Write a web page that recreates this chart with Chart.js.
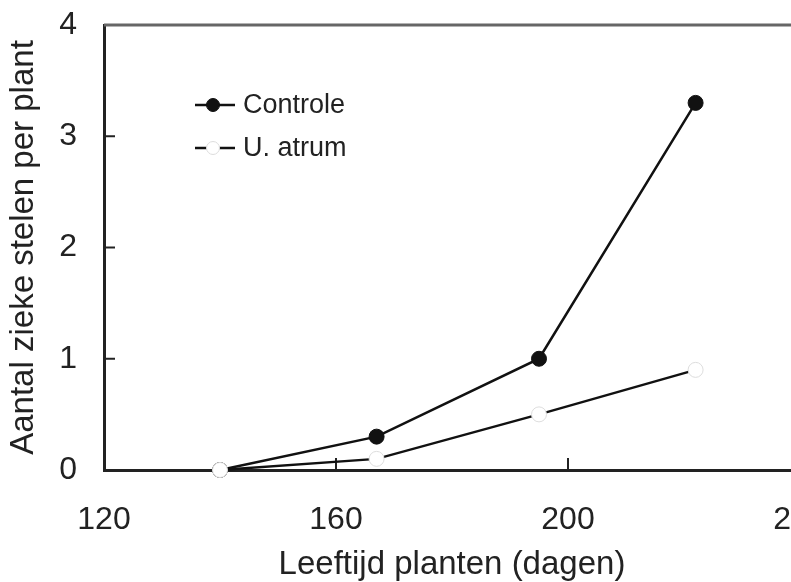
<!DOCTYPE html>
<html><head><meta charset="utf-8">
<script src="https://cdn.jsdelivr.net/npm/chart.js@4/dist/chart.umd.min.js"></script>
<style>
html,body{margin:0;padding:0;background:#fff;overflow:hidden;width:791px;height:582px}
#wrap{width:840px;height:582px}
canvas{display:block}
</style></head>
<body><div id="wrap"><canvas id="c" width="840" height="582"></canvas></div>
<script>
const days = [140, 167, 195, 222];
const controle = [0, 0.3, 1.0, 3.3];
const uAtrum = [0, 0.1, 0.5, 0.9];
const seriesNames = ['Controle', 'U. atrum'];
const xTicks = [120, 160, 200, 240];
const yTicks = [0, 1, 2, 3, 4];
const xTitle = 'Leeftijd planten (dagen)';
const yTitle = 'Aantal zieke stelen per plant';

const FONT = '"Liberation Sans", Arial, Helvetica, sans-serif';
const INK = '#222';

const frame = {
  id: 'frame',
  beforeDatasetsDraw(chart) {
    const {ctx, chartArea: a, scales: {x, y}} = chart;
    ctx.save();
    ctx.strokeStyle = INK;
    ctx.lineWidth = 2;
    x.ticks.forEach(t => {
      const px = x.getPixelForValue(t.value);
      if (px <= a.left + 3) return;
      ctx.beginPath(); ctx.moveTo(px, a.bottom); ctx.lineTo(px, a.bottom - 12); ctx.stroke();
    });
    y.ticks.forEach(t => {
      const py = y.getPixelForValue(t.value);
      if (py >= a.bottom - 3 || py <= a.top + 3) return;
      ctx.beginPath(); ctx.moveTo(a.left, py); ctx.lineTo(a.left + 11, py); ctx.stroke();
    });
    ctx.strokeStyle = '#666';
    ctx.lineWidth = 3;
    ctx.beginPath(); ctx.moveTo(a.left, a.top); ctx.lineTo(a.right, a.top); ctx.stroke();
    ctx.restore();
  }
};

const legendPlugin = {
  id: 'legendPlugin',
  afterDatasetsDraw(chart) {
    const {ctx, chartArea: a} = chart;
    ctx.save();
    chart.data.datasets.forEach((ds, i) => {
      const yy = a.top + 80 + i * 43;
      ctx.strokeStyle = ds.borderColor;
      ctx.lineWidth = 2.5;
      ctx.beginPath(); ctx.moveTo(a.left + 91, yy); ctx.lineTo(a.left + 131, yy); ctx.stroke();
      ctx.beginPath(); ctx.arc(a.left + 109, yy, 6.5, 0, Math.PI * 2);
      ctx.fillStyle = ds.pointBackgroundColor; ctx.fill();
      ctx.lineWidth = 1; ctx.strokeStyle = ds.pointBorderColor; ctx.stroke();
      ctx.fillStyle = INK;
      ctx.font = '27px ' + FONT;
      ctx.textAlign = 'left';
      ctx.textBaseline = 'middle';
      ctx.fillText(ds.label, a.left + 139, yy + 1);
    });
    ctx.restore();
  }
};

function zeroPad(s) { s.paddingTop = 0; s.paddingBottom = 0; s.paddingLeft = 0; s.paddingRight = 0; }

new Chart(document.getElementById('c'), {
  type: 'line',
  data: {
    datasets: [
      {
        label: seriesNames[0],
        data: days.map((d, i) => ({x: d, y: controle[i]})),
        borderColor: '#111', borderWidth: 2.5,
        pointRadius: 7.5, pointBackgroundColor: '#111', pointBorderColor: '#111', pointBorderWidth: 1,
        tension: 0, order: 1
      },
      {
        label: seriesNames[1],
        data: days.map((d, i) => ({x: d, y: uAtrum[i]})),
        borderColor: '#111', borderWidth: 2.5,
        pointRadius: 7.5, pointBackgroundColor: '#fff', pointBorderColor: '#ddd', pointBorderWidth: 1,
        tension: 0, order: 0
      }
    ]
  },
  options: {
    responsive: false,
    devicePixelRatio: 1,
    animation: false,
    clip: false,
    layout: {padding: {left: 0, top: 25, right: 40, bottom: 0}},
    plugins: {legend: {display: false}, tooltip: {enabled: false}},
    scales: {
      x: {
        type: 'linear', min: xTicks[0], max: xTicks[xTicks.length - 1],
        afterBuildTicks: s => { s.ticks = xTicks.map(v => ({value: v})); },
        afterFit: s => { s.height = 112; zeroPad(s); },
        grid: {display: false, drawTicks: false},
        border: {display: true, color: INK, width: 3},
        ticks: {font: {size: 32, family: FONT}, color: INK, padding: 31, maxRotation: 0, autoSkip: false},
        title: {display: true, text: xTitle, font: {size: 33, family: FONT, lineHeight: 1.0}, color: INK, padding: {top: 0, bottom: 1}}
      },
      y: {
        type: 'linear', min: yTicks[0], max: yTicks[yTicks.length - 1],
        afterBuildTicks: s => { s.ticks = yTicks.map(v => ({value: v})); },
        afterFit: s => { s.width = 104; zeroPad(s); },
        grid: {display: false, drawTicks: false},
        border: {display: true, color: INK, width: 3},
        ticks: {font: {size: 32, family: FONT}, color: INK, padding: 27},
        title: {display: true, text: yTitle, font: {size: 33, family: FONT}, color: INK, padding: {top: 4, bottom: 0}}
      }
    }
  },
  plugins: [frame, legendPlugin]
});
</script>
</body></html>
